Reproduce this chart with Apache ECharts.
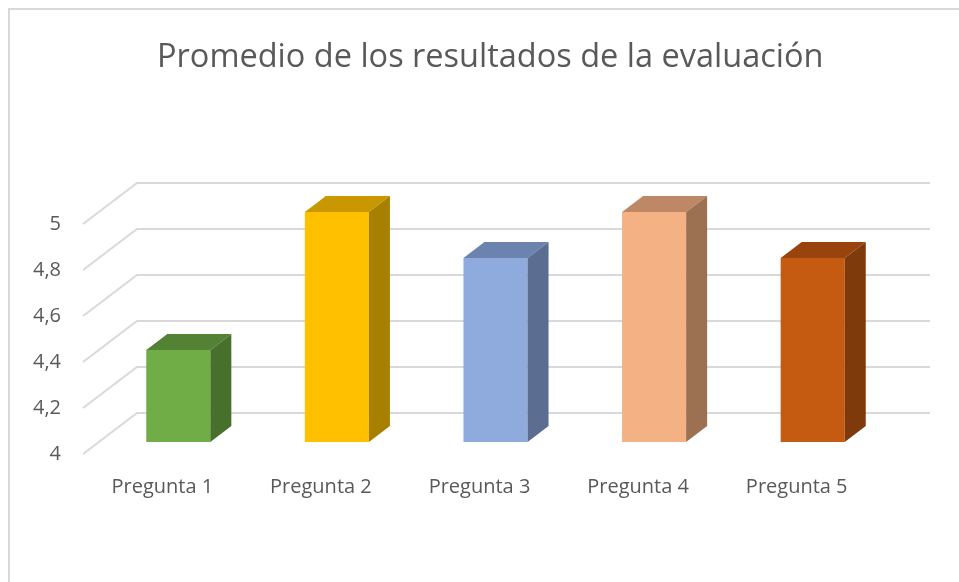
<!DOCTYPE html>
<html lang="es">
<head>
  <meta charset="UTF-8">
  <script src="https://cdn.jsdelivr.net/npm/echarts@6.0.0/dist/echarts.min.js"></script>
  <title>Promedio de los resultados de la evaluación</title>
  <style>
    html, body { margin: 0; padding: 0; background: #fff; }
    #main { width: 959px; height: 582px; }
  </style>
</head>
<body>
  <div id="main"></div>
  <script>
    // data
    var categories = ['Pregunta 1', 'Pregunta 2', 'Pregunta 3', 'Pregunta 4', 'Pregunta 5'];
    var scores = [4.4, 5, 4.8, 5, 4.8];
    var yTicks = [4, 4.2, 4.4, 4.6, 4.8, 5];

    // front / top / side shades for each bar
    var faceColors = [
      ['#70AD47', '#548235', '#46702B'],
      ['#FFC000', '#C99700', '#A88000'],
      ['#8FAADC', '#6C83B0', '#5B6E92'],
      ['#F4B183', '#BE8766', '#9C7152'],
      ['#C55A11', '#99440C', '#7E3A0A']
    ];

    var FONT = '"Open Sans", Lato, sans-serif';
    var chart = echarts.init(document.getElementById('main'));

    // 3d offsets (pixels): back wall, bar front plane, bar depth
    var wallDx = 54, wallDy = -41;
    var barDx = 16, barDy = -12;
    var depthDx = 21, depthDy = -16;

    chart.setOption({
      animation: false,
      title: {
        text: 'Promedio de los resultados de la evaluación',
        left: 152,
        top: 36,
        textStyle: { fontFamily: FONT, fontSize: 32.5, fontWeight: 'normal', color: '#595959' }
      },
      graphic: [
        { type: 'line', shape: { x1: 8, y1: 9, x2: 959, y2: 9 }, style: { stroke: '#d9d9d9', lineWidth: 2 } },
        { type: 'line', shape: { x1: 9, y1: 9, x2: 9, y2: 582 }, style: { stroke: '#d9d9d9', lineWidth: 2 } }
      ],
      grid: { left: 83, top: 224, width: 793, height: 230 },
      xAxis: {
        type: 'category',
        data: categories,
        axisLine: { show: false },
        axisTick: { show: false },
        axisLabel: { margin: 23, fontFamily: FONT, fontSize: 20, color: '#595959' }
      },
      yAxis: {
        type: 'value',
        min: 4,
        max: 5,
        interval: 0.2,
        splitLine: { show: false },
        axisLine: { show: false },
        axisLabel: {
          margin: 22,
          fontFamily: FONT,
          fontSize: 20,
          color: '#595959',
          formatter: function (v) { return String(+v.toFixed(1)).replace('.', ','); }
        }
      },
      series: [
        {
          // gridlines: diagonal on the floor side, then along the back wall
          type: 'custom',
          clip: false,
          silent: true,
          data: yTicks.map(function (v) { return [0, v]; }),
          renderItem: function (params, api) {
            var cs = params.coordSys;
            var y = api.coord([0, api.value(1)])[1];
            return {
              type: 'polyline',
              shape: { points: [[cs.x, y], [cs.x + wallDx, y + wallDy], [cs.x + wallDx + cs.width, y + wallDy]] },
              style: { stroke: '#d9d9d9', lineWidth: 2, fill: null }
            };
          },
          z: 1
        },
        {
          type: 'custom',
          clip: false,
          data: scores.map(function (v, i) { return [i, v]; }),
          renderItem: function (params, api) {
            var i = api.value(0);
            var base = api.coord([i, 4]);
            var top = api.coord([i, api.value(1)]);
            var w = api.size([1, 0])[0] * 0.404;
            var xl = base[0] + barDx - w / 2, xr = xl + w;
            var yb = base[1] + barDy, yt = top[1] + barDy;
            var c = faceColors[i];
            return {
              type: 'group',
              children: [
                { type: 'rect', shape: { x: xl, y: yt, width: w, height: yb - yt }, style: { fill: c[0] } },
                { type: 'polygon', shape: { points: [[xl, yt], [xr, yt], [xr + depthDx, yt + depthDy], [xl + depthDx, yt + depthDy]] }, style: { fill: c[1] } },
                { type: 'polygon', shape: { points: [[xr, yt], [xr + depthDx, yt + depthDy], [xr + depthDx, yb + depthDy], [xr, yb]] }, style: { fill: c[2] } }
              ]
            };
          },
          z: 2
        }
      ]
    });
  </script>
</body>
</html>
